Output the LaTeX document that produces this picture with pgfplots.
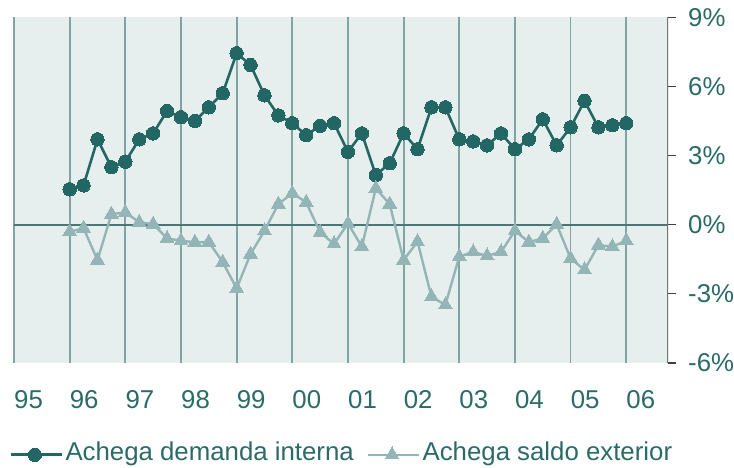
\documentclass[border=0pt]{standalone}
\usepackage{fontspec}
\setmainfont{Liberation Sans}
\usepackage{pgfplots}
\pgfplotsset{compat=1.18}
\definecolor{darkteal}{RGB}{35,103,100}
\definecolor{lightteal}{RGB}{148,181,181}
\definecolor{bgcol}{RGB}{231,239,238}
\definecolor{gridcol}{RGB}{126,165,164}
\definecolor{textcol}{RGB}{42,107,104}
\definecolor{zerocol}{RGB}{70,120,118}
\definecolor{rightcol}{RGB}{115,115,115}
\begin{document}
\begin{tikzpicture}
\useasboundingbox (-14pt,-105pt) rectangle (720pt,363pt);
\begin{axis}[
  at={(0pt,0pt)}, anchor=south west,
  scale only axis, width=654pt, height=345.5pt,
  xmin=0, xmax=47, ymin=-6, ymax=9,
  axis background/.style={fill=bgcol},
  axis line style={draw=none},
  font=\fontsize{25.8pt}{30pt}\selectfont,
  xtick={0,4,...,44},
  xticklabels={95,96,97,98,99,00,01,02,03,04,05,06},
  xtick pos=lower,
  xtick style={draw=none},
  xmajorgrids,
  major x grid style={draw=gridcol, line width=1.8pt},
  xticklabel style={anchor=north west, inner sep=0pt, yshift=-19.7pt, text=textcol},
  ytick={-6,-3,0,3,6,9},
  yticklabels={-6\%,-3\%,0\%,3\%,6\%,9\%},
  ytick pos=right, yticklabel pos=right,
  tick align=outside, major tick length=8pt,
  ytick style={draw=black!75, line width=1.2pt},
  yticklabel style={anchor=west, inner sep=0pt, xshift=12pt, text=textcol},
  legend columns=2,
  legend cell align=left,
  legend style={draw=none, fill=none, inner sep=0pt,
    at={(axis description cs:0,0)}, anchor=north west,
    xshift=-4.7pt, yshift=-77pt,
    font=\fontsize{25.8pt}{30pt}\selectfont, text=textcol,
    /tikz/every even column/.append style={column sep=11pt}},
  legend image code/.code={\draw[#1, mark repeat=2, mark phase=2] plot coordinates {(0pt,-2.5pt) (24pt,-2.5pt) (51.4pt,-2.5pt)};},
]
\addplot[zerocol, line width=1.8pt, forget plot] coordinates {(0,0) (47,0)};
\addplot[darkteal, line width=2.6pt, mark=*, mark size=6.7pt, mark options={solid, fill=darkteal, draw=darkteal, line width=0pt}] coordinates {
(4,1.54)(5,1.71)(6,3.71)(7,2.50)
(8,2.74)(9,3.71)(10,3.97)(11,4.94)
(12,4.67)(13,4.51)(14,5.10)(15,5.71)
(16,7.45)(17,6.94)(18,5.62)(19,4.75)
(20,4.41)(21,3.89)(22,4.30)(23,4.41)
(24,3.17)(25,3.97)(26,2.16)(27,2.67)
(28,3.97)(29,3.28)(30,5.10)(31,5.10)
(32,3.71)(33,3.62)(34,3.45)(35,3.97)
(36,3.28)(37,3.71)(38,4.58)(39,3.45)
(40,4.23)(41,5.38)(42,4.23)(43,4.32)
(44,4.41)};
\addlegendentry{Achega demanda interna}
\addplot[lightteal, line width=2.4pt, mark=triangle*, mark size=8pt, mark options={solid, fill=lightteal, draw=lightteal, line width=0pt}] coordinates {
(4,-0.30)(5,-0.15)(6,-1.53)(7,0.46)
(8,0.54)(9,0.11)(10,0.03)(11,-0.59)
(12,-0.69)(13,-0.76)(14,-0.75)(15,-1.62)
(16,-2.76)(17,-1.27)(18,-0.26)(19,0.90)
(20,1.37)(21,0.98)(22,-0.33)(23,-0.83)
(24,0.06)(25,-0.95)(26,1.58)(27,0.90)
(28,-1.53)(29,-0.73)(30,-3.12)(31,-3.48)
(32,-1.38)(33,-1.18)(34,-1.35)(35,-1.18)
(36,-0.26)(37,-0.75)(38,-0.59)(39,0.02)
(40,-1.46)(41,-1.96)(42,-0.88)(43,-0.95)
(44,-0.69)};
\addlegendentry{Achega saldo exterior}
\draw[rightcol, line width=1.5pt] (axis description cs:1,0) -- (axis description cs:1,1);
\end{axis}
\end{tikzpicture}
\end{document}
